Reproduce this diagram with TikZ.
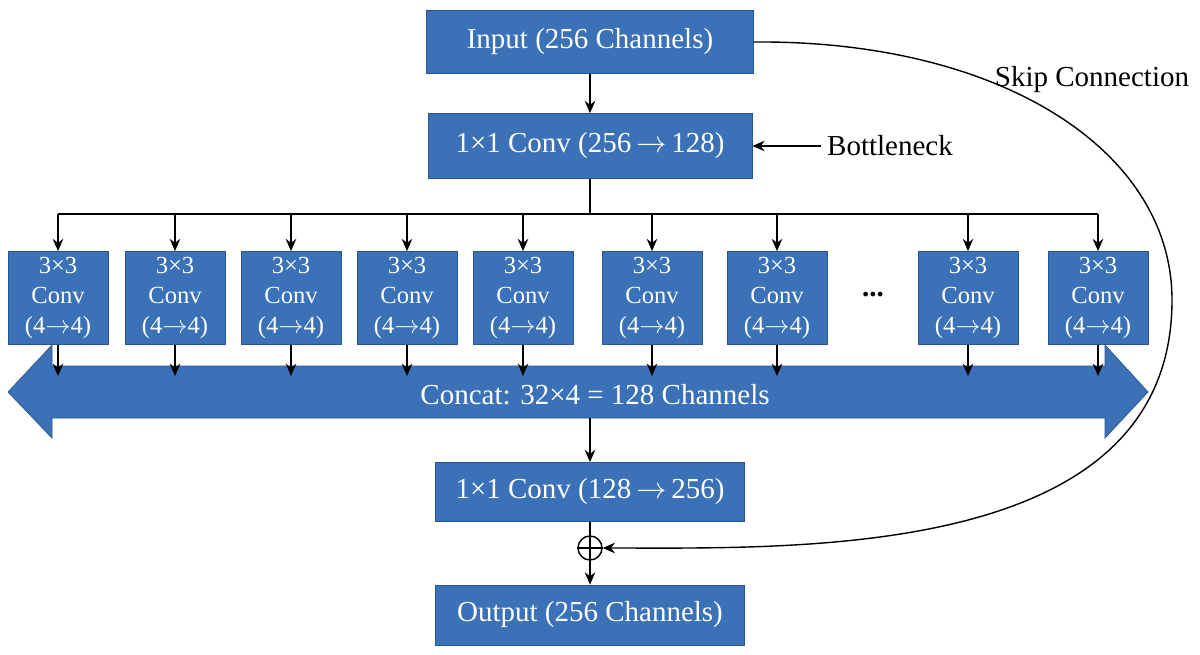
\documentclass[tikz,border=0pt]{standalone}
\usepackage{fontspec}
\setmainfont{Liberation Serif}
\usetikzlibrary{arrows.meta,positioning}
\definecolor{boxblue}{HTML}{3B71B6}
\definecolor{boxedge}{HTML}{2A5490}
\newcommand{\arr}{\,$\rightarrow$\,}
\begin{document}
\begin{tikzpicture}[x=0.02cm,y=-0.02cm,>={Stealth[length=7pt,width=6pt]},
  block/.style={rectangle,draw=boxedge,fill=boxblue,text=white,inner sep=0pt,
    font=\fontsize{16.5}{19}\selectfont},
  small/.style={rectangle,draw=boxedge,fill=boxblue,text=white,inner sep=0pt,
    minimum width=100*0.02cm,minimum height=93*0.02cm,align=center,
    font=\fontsize{14}{17}\selectfont},
  wire/.style={draw,thick}]
\useasboundingbox (0,0) rectangle (1200,655);
\fill[white] (0,0) rectangle (1200,655);

\node[block,minimum width=327*0.02cm,minimum height=63*0.02cm] (input) at (590,42) {Input (256 Channels)};
\node[block,minimum width=324*0.02cm,minimum height=65*0.02cm] (conva) at (590,146) {1×1 Conv (256\arr 128)};
\node[font=\fontsize{16.5}{19}\selectfont] (bottle) at (890,146) {Bottleneck};
\draw[->,thick] (bottle.west) -- (conva.east);
\draw[->,thick] (input) -- (conva);

% bus
\coordinate (busl) at (58,214);
\coordinate (busr) at (1098,214);
\coordinate (busm) at (590,214);
\draw[thick] (busl) -- (busr);
\draw[thick] (conva.south) -- (busm);

% concat band
\draw[fill=boxblue,draw=boxedge]
  (8,392) -- (52,345) -- (52,366) -- (1105,366) -- (1105,345) -- (1148,392)
  -- (1105,438) -- (1105,418) -- (52,418) -- (52,438) -- cycle;
\node[text=white,font=\fontsize{16.5}{19}\selectfont] (concat) at (595,395) {Concat: 32×4 = 128 Channels};

% grouped convolutions
\foreach \x [count=\i] in {58,175,291,407,523,652,777,968,1098} {
  \node[small] (g\i) at (\x,298) {3×3\\Conv\\(4$\rightarrow$4)};
  \draw[->,thick] (\x,214) -- (g\i.north);
  \coordinate (c\i) at (\x,376);
  \draw[->,thick] (g\i.south) -- (c\i);
}
\node[font=\fontsize{16.5}{19}\selectfont] (dots) at (873,295) {\textbf{...}};

\node[block,minimum width=309*0.02cm,minimum height=59*0.02cm] (convb) at (590,492) {1×1 Conv (128\arr 256)};
\coordinate (bandout) at (590,418);
\draw[->,thick] (bandout) -- (convb.north);

\node[circle,draw,thick,minimum size=24*0.02cm,inner sep=0pt] (add) at (590,548) {};
\draw[thick] (add.north) -- (add.south) (add.west) -- (add.east);
\node[block,minimum width=309*0.02cm,minimum height=60*0.02cm] (output) at (590,615) {Output (256 Channels)};
\draw[thick] (convb.south) -- (add.north);
\draw[->,thick] (add.south) -- (output.north);

% skip
\coordinate (far) at (1172,300);
\draw[->,thick] (input.east) .. controls (1000,40) and (1172,150) .. (far)
  .. controls (1172,560) and (800,548) .. (add.east);
\node[font=\fontsize{16.5}{19}\selectfont] (skip) at (1092,80) {Skip Connection};
\end{tikzpicture}
\end{document}
